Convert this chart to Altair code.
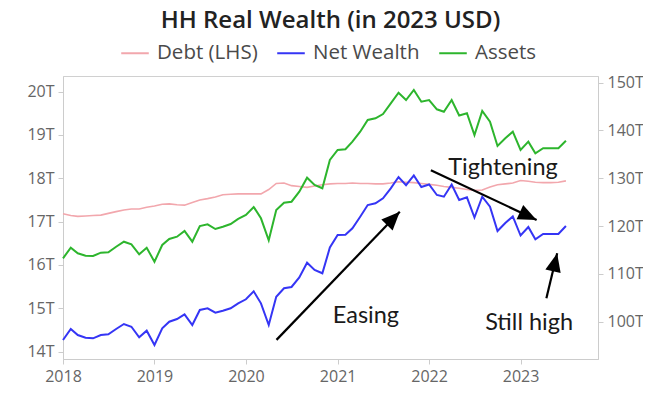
import altair as alt
import pandas as pd

# ---- data (monthly, Jan 2018 - Jul 2023), values in trillions of 2023 USD ----
dates = pd.date_range("2018-01-01", periods=67, freq="MS").strftime("%Y-%m-%d").tolist()

debt = [17.18, 17.14, 17.12, 17.13, 17.14, 17.15, 17.19, 17.23, 17.27, 17.29, 17.29, 17.33,
        17.36, 17.40, 17.41, 17.39, 17.38, 17.44, 17.50, 17.53, 17.57, 17.62, 17.63, 17.64,
        17.64, 17.64, 17.64, 17.74, 17.88, 17.89, 17.83, 17.81, 17.79, 17.82, 17.85, 17.87,
        17.88, 17.88, 17.89, 17.88, 17.88, 17.87, 17.87, 17.89, 17.92, 17.91, 17.90, 17.88,
        17.86, 17.84, 17.81, 17.79, 17.77, 17.74, 17.72, 17.73, 17.80, 17.85, 17.87, 17.89,
        17.95, 17.93, 17.91, 17.90, 17.90, 17.91, 17.94]

net_wealth = [96.17, 98.47, 97.22, 96.65, 96.53, 97.22, 97.36, 98.47, 99.52, 98.95, 96.74, 98.12,
              95.13, 98.62, 100.00, 100.56, 101.55, 99.31, 102.45, 102.80, 101.88, 102.30, 102.80, 103.85,
              104.69, 106.36, 103.85, 99.31, 105.23, 106.99, 107.26, 109.25, 112.34, 110.82, 110.13, 115.52,
              118.14, 118.20, 119.54, 121.97, 124.41, 124.77, 125.82, 127.91, 130.27, 128.56, 130.59, 128.18,
              128.70, 126.51, 126.15, 128.70, 125.46, 126.03, 121.80, 126.15, 124.06, 118.98, 120.65, 122.01,
              118.03, 119.81, 117.24, 118.35, 118.35, 118.35, 120.02]

assets = [113.26, 115.48, 114.31, 113.81, 113.74, 114.44, 114.52, 115.69, 116.74, 116.19, 114.10, 115.48,
          112.55, 116.05, 117.30, 117.78, 118.97, 116.74, 120.02, 120.38, 119.39, 119.87, 120.44, 121.49,
          122.32, 124.00, 121.63, 117.03, 123.37, 124.90, 125.10, 127.20, 130.13, 128.60, 127.91, 133.83,
          135.92, 136.07, 137.66, 139.75, 142.20, 142.55, 143.45, 145.69, 147.91, 146.38, 148.47, 146.03,
          146.38, 144.44, 143.93, 146.38, 143.14, 143.60, 139.06, 144.08, 141.84, 136.76, 138.37, 139.75,
          135.92, 137.66, 135.23, 136.28, 136.28, 136.28, 137.87]

series_names = ["Debt (LHS)", "Net Wealth", "Assets"]
series_colors = ["#f2a7ad", "#3535f5", "#2db52d"]

# annotations (in data coordinates of the right-hand axis)
ann_labels = ["Easing", "Tightening", "Still high"]
ann_text_x = ["2021-04-24", "2022-10-23", "2023-02-04"]
ann_text_y = [101.2, 132.1, 99.7]
arrow_x0 = ["2020-05-02", "2022-01-08", "2023-04-14"]
arrow_y0 = [96.2, 131.7, 104.9]
arrow_x1 = ["2021-09-06", "2023-03-06", "2023-05-27"]
arrow_y1 = [123.0, 121.3, 114.3]
arrow_angle = [44, 115, 13]

left_ticks = [14, 15, 16, 17, 18, 19, 20]
right_ticks = [100, 110, 120, 130, 140, 150]
year_ticks = [2018, 2019, 2020, 2021, 2022, 2023]

# ---- tables ----
df_debt = pd.DataFrame({"date": dates, "series": series_names[0], "value": debt})
df_right = pd.concat([
    pd.DataFrame({"date": dates, "series": series_names[1], "value": net_wealth}),
    pd.DataFrame({"date": dates, "series": series_names[2], "value": assets}),
])
df_arrows = pd.DataFrame({"x0": arrow_x0, "y0": arrow_y0, "x1": arrow_x1,
                          "y1": arrow_y1, "ang": arrow_angle})
df_text = pd.DataFrame({"tx": ann_text_x, "ty": ann_text_y, "label": ann_labels})

FONT = "Open Sans"
x_scale = alt.Scale(domain=["2018-01-01", "2023-11-06"])
x_axis = alt.Axis(values=[alt.DateTime(year=y, month=1, date=1) for y in year_ticks],
                  format="%Y", title=None, grid=False, labelFlush=False)
right_scale = alt.Scale(domain=[92.2, 151.4], nice=False, zero=False)
right_axis = alt.Axis(orient="right", values=right_ticks, labelExpr="datum.value + 'T'",
                      title=None, grid=False)

color = alt.Color("series:N",
                  scale=alt.Scale(domain=series_names, range=series_colors),
                  sort=series_names,
                  legend=alt.Legend(title=None, orient="none", direction="horizontal",
                                    legendX=57, legendY=-38, symbolType="stroke",
                                    symbolStrokeWidth=2, symbolSize=760,
                                    labelFontSize=20.5, labelFont=FONT, labelColor="#4a4a4a",
                                    columnPadding=15, labelOffset=7))

debt_line = alt.Chart(df_debt).mark_line(strokeWidth=1.6).encode(
    x=alt.X("date:T", scale=x_scale, axis=x_axis),
    y=alt.Y("value:Q", scale=alt.Scale(domain=[13.83, 20.36], nice=False, zero=False),
            axis=alt.Axis(orient="left", values=left_ticks, labelExpr="datum.value + 'T'",
                          title=None, grid=False)),
    color=color,
)

right_lines = alt.Chart(df_right).mark_line(strokeWidth=2).encode(
    x=alt.X("date:T", scale=x_scale, axis=x_axis),
    y=alt.Y("value:Q", scale=right_scale, axis=right_axis),
    color=color,
)

arrows = alt.Chart(df_arrows).mark_rule(color="black", strokeWidth=2.2).encode(
    x=alt.X("x0:T", scale=x_scale, axis=x_axis),
    x2="x1:T",
    y=alt.Y("y0:Q", scale=right_scale, axis=right_axis),
    y2="y1:Q",
)

heads = alt.Chart(df_arrows).mark_point(
    shape="M0,0L0.85,2L-0.85,2Z", filled=True, size=340, color="black", opacity=1
).encode(
    x=alt.X("x1:T", scale=x_scale, axis=x_axis),
    y=alt.Y("y1:Q", scale=right_scale, axis=right_axis),
    angle=alt.Angle("ang:Q", scale=None),
)

texts = alt.Chart(df_text).mark_text(font="Lato", fontSize=23.5, color="#1a1a1a").encode(
    x=alt.X("tx:T", scale=x_scale, axis=x_axis),
    y=alt.Y("ty:Q", scale=right_scale, axis=right_axis),
    text="label:N",
)

right_layer = alt.layer(right_lines, arrows, heads, texts)

chart = alt.layer(debt_line, right_layer).resolve_scale(y="independent").properties(
    width=535, height=283,
    title=alt.TitleParams("HH Real Wealth (in 2023 USD)", font=FONT, fontSize=24,
                          fontWeight=600, color="#222222", anchor="middle",
                          frame="group", offset=5),
    autosize=alt.AutoSizeParams(type="none"),
    padding={"left": 55, "top": 68, "right": 45, "bottom": 30},
).configure_view(stroke="#d0d0d0").configure_axis(
    labelFont=FONT, labelFontSize=16, labelColor="#666666",
    domainColor="#cccccc", tickColor="#cccccc", tickSize=5, labelPadding=4,
)

chart.save("out.html", embed_options={"renderer": "svg", "actions": False})
